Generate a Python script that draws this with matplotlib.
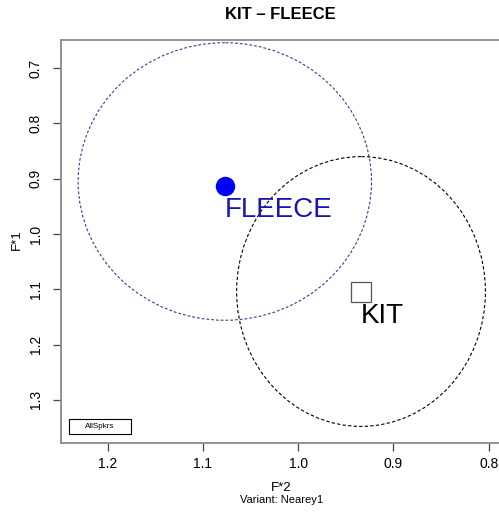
import matplotlib
matplotlib.use("Agg")
import matplotlib.pyplot as plt
from matplotlib.patches import Ellipse, Rectangle

plt.rcParams['font.family'] = ['Liberation Sans', 'DejaVu Sans']

# data
vowels = ['FLEECE', 'KIT']
f2_mean = [1.077, 0.9345]
f1_mean = [0.914, 1.104]
ell_f2_center = [1.077, 0.934]
ell_f1_center = [0.905, 1.104]
ell_f2_radius = [0.154, 0.1306]
ell_f1_radius = [0.251, 0.244]
x_ticks = [1.2, 1.1, 1.0, 0.9, 0.8]
y_ticks = [0.7, 0.8, 0.9, 1.0, 1.1, 1.2, 1.3]
title = 'KIT \u2013 FLEECE'

# styles
point_colors = ['#0000ff', 'white']
point_edges = ['#0000ff', '#555555']
markers = ['o', 's']
text_colors = ['#1515b8', 'black']
ell_colors = ['#3a3a9a', 'black']
ell_dash = [(0, (2.5, 1.8)), (0, (3, 2))]

fig = plt.figure(figsize=(4.99, 5.12), dpi=100)
ax = fig.add_axes([0.1222, 0.1348, 0.88, 0.7871])

for i, v in enumerate(vowels):
    e = Ellipse((ell_f2_center[i], ell_f1_center[i]), 2 * ell_f2_radius[i], 2 * ell_f1_radius[i],
                fill=False, edgecolor=ell_colors[i], linestyle=ell_dash[i], linewidth=0.8)
    ax.add_patch(e)
    ax.plot([f2_mean[i]], [f1_mean[i]], marker=markers[i], markersize=14,
            markerfacecolor=point_colors[i], markeredgecolor=point_edges[i],
            markeredgewidth=0.9 if i == 1 else 0, linestyle='none', zorder=3)
    ax.annotate(v, (f2_mean[i], f1_mean[i]), xytext=(0, -11), textcoords='offset pixels',
                ha='left', va='top', fontsize=20, color=text_colors[i], zorder=4)

ax.set_xlim(1.249, 0.788)
ax.set_ylim(1.378, 0.649)
ax.set_xticks(x_ticks)
ax.set_xticklabels([f'{t:.1f}' for t in x_ticks])
ax.set_yticks(y_ticks)
ax.set_yticklabels([f'{t:.1f}' for t in y_ticks], rotation=90, va='center')

for s in ax.spines.values():
    s.set_color('#8a8a8a')
    s.set_linewidth(1.3)
ax.tick_params(axis='both', length=6, width=0.9, color='#444444', labelsize=10, pad=4)
ax.tick_params(axis='y', pad=7)

ax.set_title(title, fontsize=12, fontweight='bold', pad=15)
fig.text(0.5635, 1 - 488 / 512, 'F*2', ha='center', va='center', fontsize=9.5)
fig.text(0.5635, 1 - 500 / 512, 'Variant: Nearey1', ha='center', va='center', fontsize=8)
fig.text(17 / 499, 1 - 240 / 512, 'F*1', ha='center', va='center', rotation=90, fontsize=9.5)

# legend box
lb = Rectangle((69 / 499, 1 - 434 / 512), 62 / 499, 15 / 512, transform=fig.transFigure,
               fill=False, edgecolor='black', linewidth=0.8)
fig.add_artist(lb)
fig.text(100 / 499, 1 - 426.5 / 512, 'AllSpkrs', ha='center', va='center', fontsize=5.8)

fig.savefig('out.png', dpi=100)
